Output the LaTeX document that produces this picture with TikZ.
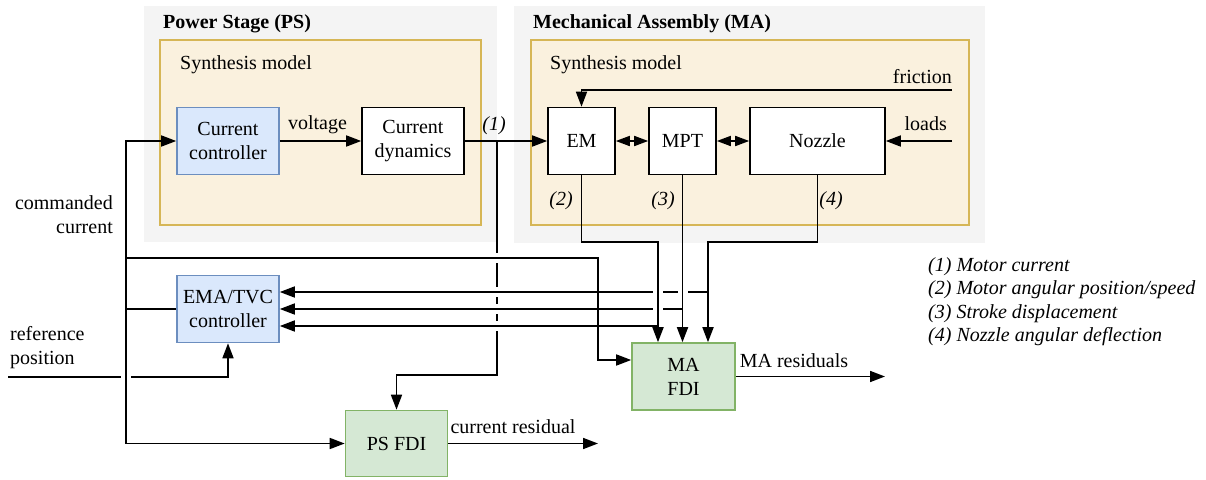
\documentclass[tikz,border=0pt]{standalone}
\usepackage{fontspec}
\setmainfont{Liberation Serif}
\usetikzlibrary{arrows.meta,positioning}

\definecolor{zoneGray}{HTML}{F4F4F4}
\definecolor{synFill}{RGB}{250,241,222}
\definecolor{synLine}{HTML}{D6B656}
\definecolor{ctrlFill}{HTML}{DAE8FC}
\definecolor{ctrlLine}{HTML}{6C8EBF}
\definecolor{fdiFill}{HTML}{D5E8D4}
\definecolor{fdiLine}{HTML}{82B366}

\tikzset{
flow/.style={line width=1.7pt, -{Triangle[length=15pt,width=11pt]}},
bothflow/.style={line width=1.7pt, {Triangle[length=14pt,width=10pt]}-{Triangle[length=14pt,width=10pt]}},
gapmask/.style={white, line width=4pt}
}

\begin{document}
\begin{tikzpicture}[x=1pt, y=-1pt, every node/.style={font=\fontsize{20}{24}\selectfont}]
	\tikzset{zone/.style = {fill=zoneGray, draw=none, inner sep=0pt}}
	\tikzset{synth/.style = {fill=synFill, draw=synLine, line width=1.5pt, inner sep=0pt}}
	\tikzset{block/.style = {draw, fill=white, line width=1.6pt, align=center, inner sep=0pt, minimum height=67pt}}
	\tikzset{ctrl/.style = {block, fill=ctrlFill, draw=ctrlLine, minimum width=102pt}}
	\tikzset{fdi/.style = {block, fill=fdiFill, draw=fdiLine}}
	\tikzset{lbl/.style = {inner sep=0pt}}
	\tikzset{tag/.style = {inner sep=0pt, font=\fontsize{20}{24}\selectfont\itshape}}
	\tikzset{head/.style = {inner sep=0pt, font=\fontsize{20}{24}\selectfont\bfseries}}

	\useasboundingbox (0,0) rectangle (1206,479);

	% the two sub-systems
	\node[zone, minimum width=353pt, minimum height=236pt] (psZone) at (320.5,124) {};
	\node[zone, minimum width=471pt, minimum height=237pt] (maZone) at (749.5,124.5) {};
	\node[synth, minimum width=321pt, minimum height=185pt] (psSyn) at (320.5,132.5) {};
	\node[synth, minimum width=438pt, minimum height=185pt] (maSyn) at (750,132.5) {};

	\node[head, anchor=base west] (psTitle) at (163,28) {Power Stage (PS)};
	\node[head, anchor=base west] (maTitle) at (533,28) {Mechanical Assembly (MA)};
	\node[lbl, anchor=base west] (psSynLbl) at (180,69) {Synthesis model};
	\node[lbl, anchor=base west] (maSynLbl) at (550,69) {Synthesis model};

	\node[ctrl] (cc) at (228,141) {Current\\controller};
	\node[block, minimum width=102pt] (cd) at (413,141) {Current\\dynamics};
	\node[block, minimum width=67pt] (em) at (581.5,141) {EM};
	\node[block, minimum width=67pt] (mpt) at (682.5,141) {MPT};
	\node[block, minimum width=135pt] (noz) at (817.5,141) {Nozzle};
	\node[ctrl] (ema) at (228,309) {EMA/TVC\\controller};
	\node[fdi, minimum width=102pt, minimum height=66pt] (psfdi) at (396.5,443.5) {PS FDI};
	\node[fdi, minimum width=103pt] (mafdi) at (683.5,376.5) {MA\\FDI};

	\coordinate (j1) at (497,141);
	\coordinate (psTop) at (396.5,375);
	\coordinate (bus) at (126,309);
	\coordinate (tapL) at (126,258);
	\coordinate (tapR) at (598,258);
	\coordinate (maL) at ([yshift=16.5pt]mafdi.west);
	\coordinate (maA) at ([xshift=-25.5pt]mafdi.north);
	\coordinate (maC) at ([xshift=24.5pt]mafdi.north);
	\coordinate (emaN) at ([yshift=17pt]ema.east);
	\coordinate (emaS) at ([yshift=-17pt]ema.east);
	\coordinate (refIn) at (8,377);
	\coordinate (psOut) at (598,443.5);
	\coordinate (maOut) at (885,376.5);
	\coordinate (fricIn) at (952,90);
	\coordinate (loadIn) at (952,141);

	% lines that get cut where others cross
	\draw[flow] (j1) |- (psTop) -- (psfdi.north);
	\foreach \y in {258,292,309,326}
		\draw[gapmask] (497,\y-5) -- (497,\y+5);
	\draw[flow] (maC |- emaN) -- (emaN);
	\draw[flow] (mpt.south |- ema.east) -- (ema.east);
	\draw[flow] (refIn) -| (ema.south);
	\draw[gapmask] (653,292) -- (663,292);
	\draw[gapmask] (678,292) -- (688,292);
	\draw[gapmask] (653,309) -- (663,309);
	\draw[gapmask] (121,377) -- (131,377);

	% the rest
	\draw[flow] (maA |- emaS) -- (emaS);
	\draw[flow] (em.south) -- ++(0,67) -| (maA);
	\draw[flow] (mpt.south) -- (mpt.south |- mafdi.north);
	\draw[flow] (noz.south) -- ++(0,67) -| (maC);
	\draw[flow] (tapL) -- (tapR) |- (maL);
	\draw[flow] (ema.west) -- (bus) |- (cc.west);
	\draw[flow] (bus) |- (psfdi.west);
	\draw[flow] (cc.east) -- (cd.west);
	\draw[flow] (cd.east) -- (em.west);
	\draw[bothflow] (em.east) -- (mpt.west);
	\draw[bothflow] (mpt.east) -- (noz.west);
	\draw[flow] (fricIn) -| (em.north);
	\draw[flow] (loadIn) -- (noz.east);
	\draw[flow] (psfdi.east) -- (psOut);
	\draw[flow] (mafdi.east) -- (maOut);

	\node[lbl, anchor=base] (voltLbl) at (317.5,129) {voltage};
	\node[tag, anchor=base] (tag1) at (494,130) {(1)};
	\node[tag, anchor=base] (tag2) at (561,205) {(2)};
	\node[tag, anchor=base] (tag3) at (663,205) {(3)};
	\node[tag, anchor=base] (tag4) at (831,205) {(4)};
	\node[lbl, anchor=base east] (fricLbl) at (952,83) {friction};
	\node[lbl, anchor=base east] (loadLbl) at (947,130) {loads};
	\node[lbl, anchor=east, align=right] (cmdLbl) at (113,215) {commanded\\current};
	\node[lbl, anchor=west, align=left] (refLbl) at (10,348) {reference\\position};
	\node[lbl, anchor=base] (curRes) at (513,433) {current residual};
	\node[lbl, anchor=base] (maRes) at (794,367) {MA residuals};

	\node[tag, anchor=base west] (leg1) at (928,271) {(1) Motor current};
	\node[tag, anchor=base west] (leg2) at (928,294.5) {(2) Motor angular position/speed};
	\node[tag, anchor=base west] (leg3) at (928,318) {(3) Stroke displacement};
	\node[tag, anchor=base west] (leg4) at (928,341.5) {(4) Nozzle angular deflection};
\end{tikzpicture}
\end{document}
